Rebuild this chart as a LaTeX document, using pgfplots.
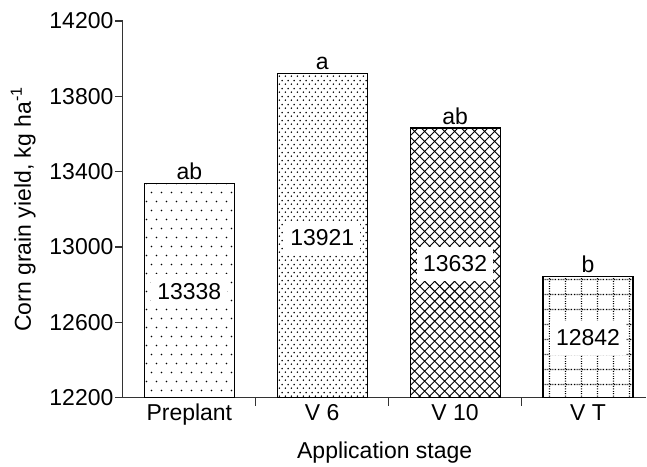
\documentclass[border=0pt]{standalone}
\usepackage{fontspec}
\setmainfont{Liberation Sans}
\usepackage{pgfplots}
\pgfplotsset{compat=1.18}
\usetikzlibrary{patterns}

% bar fills
\pgfdeclarepatternformonly{sparsedots}{\pgfqpoint{0pt}{0pt}}{\pgfqpoint{10pt}{18pt}}{\pgfqpoint{10pt}{18pt}}{
  \pgfpathcircle{\pgfqpoint{2.5pt}{4.5pt}}{0.9pt}
  \pgfpathcircle{\pgfqpoint{7.5pt}{13.5pt}}{0.9pt}
  \pgfusepath{fill}}
\pgfdeclarepatternformonly{densedots}{\pgfqpoint{0pt}{0pt}}{\pgfqpoint{6.2pt}{7.6pt}}{\pgfqpoint{6.2pt}{7.6pt}}{
  \pgfpathcircle{\pgfqpoint{1.55pt}{1.9pt}}{0.9pt}
  \pgfpathcircle{\pgfqpoint{4.65pt}{5.7pt}}{0.9pt}
  \pgfusepath{fill}}
\pgfdeclarepatternformonly{diamonds}{\pgfqpoint{-1pt}{-1pt}}{\pgfqpoint{11pt}{11pt}}{\pgfqpoint{10pt}{10pt}}{
  \pgfsetlinewidth{0.9pt}
  \pgfpathmoveto{\pgfqpoint{0pt}{0pt}}\pgfpathlineto{\pgfqpoint{10.1pt}{10.1pt}}
  \pgfpathmoveto{\pgfqpoint{0pt}{10pt}}\pgfpathlineto{\pgfqpoint{10.1pt}{-0.1pt}}
  \pgfusepath{stroke}}
\pgfdeclarepatternformonly{dotgrid}{\pgfqpoint{0pt}{0pt}}{\pgfqpoint{15.5pt}{15pt}}{\pgfqpoint{15.5pt}{15pt}}{
  \pgfsetlinewidth{1.1pt}
  \pgfsetdash{{1pt}{1.6pt}}{0pt}
  \pgfpathmoveto{\pgfqpoint{7.75pt}{0pt}}\pgfpathlineto{\pgfqpoint{7.75pt}{15pt}}
  \pgfusepath{stroke}
  \pgfsetdash{{0.8pt}{0.9pt}}{0pt}
  \pgfpathmoveto{\pgfqpoint{0pt}{7.5pt}}\pgfpathlineto{\pgfqpoint{15.5pt}{7.5pt}}
  \pgfusepath{stroke}}

\newcommand{\fs}{\fontsize{23}{27}\selectfont}

\begin{document}
\begin{tikzpicture}
\begin{axis}[
  name=ax,
  scale only axis,
  width=524pt, height=377pt,
  xmin=-0.5, xmax=3.44,
  ymin=12200, ymax=14200,
  clip=false,
  axis x line*=bottom, axis y line*=left,
  axis line style={black!80, line width=1.1pt},
  every tick/.style={black!80, line width=1.1pt},
  tick align=outside,
  major tick length=8pt,
  ytick={12200,12600,...,14200},
  scaled y ticks=false,
  yticklabel style={/pgf/number format/1000 sep={}, xshift=2pt},
  xtick={0,1,2,3},
  xticklabels={Preplant,V 6,V 10,V T},
  major x tick style={draw=none},
  extra x ticks={0.5,1.5,2.5},
  extra x tick labels={},
  extra x tick style={major x tick style={draw=black!80}},
  ticklabel style={font=\fs},
  xticklabel style={anchor=north, text height=16pt, text depth=5pt, inner sep=0pt, yshift=1pt},
  /pgf/number format/assume math mode=true,
  xlabel={Application stage},
  xlabel style={anchor=north, yshift=4pt},
  ylabel={Corn grain yield, kg ha\textsuperscript{-1}},
  ylabel style={yshift=7pt},
  label style={font=\fs},
  ybar, bar width=90pt, bar shift=0pt,
  nodes near coords,
  point meta=explicit symbolic,
  every node near coord/.append style={font=\fs, inner sep=3pt, black},
]
\addplot[draw=black, line width=1.1pt, pattern=sparsedots] coordinates {(0,13338) [ab]};
\addplot[draw=black, line width=1.1pt, pattern=densedots] coordinates {(1,13921) [a]};
\addplot[draw=black, line width=1.1pt, pattern=diamonds] coordinates {(2,13632) [ab]};
\addplot[draw=black, line width=1.1pt, pattern=dotgrid] coordinates {(3,12842) [b]};

\node[fill=white, inner xsep=6pt, inner ysep=9pt, font=\fs] at (axis cs:0,12765) {13338};
\node[fill=white, inner xsep=6pt, inner ysep=9pt, font=\fs] at (axis cs:1,13049) {13921};
\node[fill=white, inner xsep=6pt, inner ysep=9pt, font=\fs] at (axis cs:2,12911) {13632};
\node[fill=white, inner xsep=6pt, inner ysep=9pt, font=\fs] at (axis cs:3,12518) {12842};
\end{axis}
\path (ax.south west) ++(-123pt,-63pt);
\path (ax.north east) ++(0pt,21pt);
\end{tikzpicture}
\end{document}
